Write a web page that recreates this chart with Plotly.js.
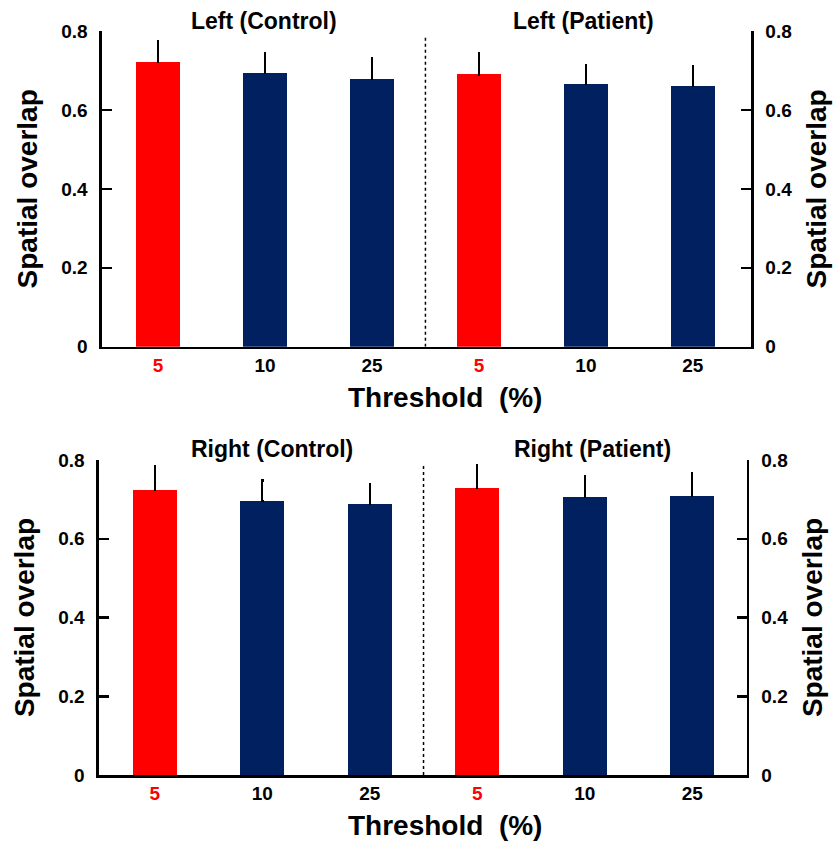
<!DOCTYPE html>
<html><head><meta charset="utf-8">
<script src="https://cdn.plot.ly/plotly-3.0.1.min.js"></script>
<style>html,body{margin:0;padding:0;background:#fff}#chart{width:838px;height:845px}</style>
</head><body><div id="chart"></div>
<script>
// ---- data ----
const thresholds = ["5", "10", "25", "5", "10", "25"];
const leftMeans  = [0.722, 0.693, 0.679, 0.690, 0.666, 0.661];
const leftErr    = [0.053, 0.051, 0.053, 0.054, 0.048, 0.049];
const rightMeans = [0.725, 0.695, 0.689, 0.730, 0.706, 0.708];
const rightErr   = [0.060, 0.053, 0.050, 0.057, 0.054, 0.058];
const groupTitles = ["Left (Control)", "Left (Patient)", "Right (Control)", "Right (Patient)"];
const highlightThreshold = "5";
const yTitle = "Spatial overlap";
const xTitle = "Threshold\u00a0\u00a0(%)";

// ---- styles ----
const RED = "#ff0000", NAVY = "#002060";
const FONT = "Liberation Sans, Arial, sans-serif";
const pos = thresholds.map((_, i) => i);
const colors = thresholds.map(t => t === highlightThreshold ? RED : NAVY);
const tickText = thresholds.map(t => t === highlightThreshold ? `<span style="color:${RED}">${t}</span>` : t);
const zeros = thresholds.map(() => 0);

function barTrace(vals, errs, xa, ya) {
  return {
    type: "bar", x: pos, y: vals, xaxis: xa, yaxis: ya, width: 0.41,
    marker: {color: colors, line: {width: 0}},
    error_y: {type: "data", array: errs, arrayminus: zeros, symmetric: false,
              color: "#000", thickness: 2.2, width: 1.2},
    hoverinfo: "y", showlegend: false
  };
}
function ghost(vals, xa, ya) {
  return {type: "scatter", mode: "markers", x: pos, y: vals, xaxis: xa, yaxis: ya,
          marker: {opacity: 0}, hoverinfo: "skip", showlegend: false};
}

const data = [
  barTrace(leftMeans, leftErr, "x", "y"),
  ghost(leftMeans, "x", "y2"),
  barTrace(rightMeans, rightErr, "x2", "y3"),
  ghost(rightMeans, "x2", "y4")
];

function xAxis(domain, range, anchor) {
  return {domain, range, anchor, tickvals: pos, ticktext: tickText, ticks: "",
    showline: true, linecolor: "#000", linewidth: 2.5, showgrid: false, zeroline: false,
    tickfont: {family: FONT, size: 19, color: "#000", weight: 700}, fixedrange: true};
}
function yAxis(domain, anchor, side, overlay) {
  const a = {domain, range: [0, 0.8], dtick: 0.2, tick0: 0, anchor, side,
    ticks: "inside", ticklen: 10, tickwidth: 2.5, tickcolor: "#000",
    showline: true, linecolor: "#000", linewidth: 2.5, showgrid: false, zeroline: false,
    ticklabelstandoff: 8,
    tickfont: {family: FONT, size: 19, color: "#000", weight: 700},
    title: {text: yTitle, standoff: 16, font: {family: FONT, size: 28, color: "#000", weight: 700}},
    fixedrange: true};
  if (overlay) a.overlaying = overlay;
  return a;
}

const topY = [0.5897, 0.9633], botY = [0.0828, 0.4556];
const layout = {
  width: 838, height: 845, margin: {l: 0, r: 0, t: 0, b: 0},
  paper_bgcolor: "#fff", plot_bgcolor: "rgba(0,0,0,0)",
  font: {family: FONT, color: "#000"},
  bargap: 0,
  xaxis: xAxis([0.1217, 0.8962], [-0.524, 5.544], "y"),
  yaxis: yAxis(topY, "x", "left"),
  yaxis2: yAxis(topY, "x", "right", "y"),
  xaxis2: xAxis([0.1181, 0.8914], [-0.52, 5.51], "y3"),
  yaxis3: yAxis(botY, "x2", "left"),
  yaxis4: yAxis(botY, "x2", "right", "y3"),
  shapes: [
    {type: "line", xref: "x", yref: "y", x0: 2.5, x1: 2.5, y0: 0, y1: 0.79,
     line: {color: "#000", width: 1.5, dash: "dot"}},
    {type: "line", xref: "x2", yref: "y3", x0: 2.5, x1: 2.5, y0: 0, y1: 0.79,
     line: {color: "#000", width: 1.5, dash: "dot"}}
  ],
  annotations: [
    {text: groupTitles[0], x: 0.3150, y: 0.975},
    {text: groupTitles[1], x: 0.6960, y: 0.975},
    {text: groupTitles[2], x: 0.3246, y: 0.4686},
    {text: groupTitles[3], x: 0.7076, y: 0.4686},
    {text: xTitle, x: 0.531, y: 0.530, size: 28},
    {text: xTitle, x: 0.531, y: 0.0225, size: 28}
  ].map(a => ({text: a.text, xref: "paper", yref: "paper", x: a.x, y: a.y,
    xanchor: "center", yanchor: "middle", showarrow: false,
    font: {family: FONT, size: a.size || 23, color: "#000", weight: 700}}))
};

Plotly.newPlot("chart", data, layout, {displayModeBar: false, staticPlot: true});
</script></body></html>
